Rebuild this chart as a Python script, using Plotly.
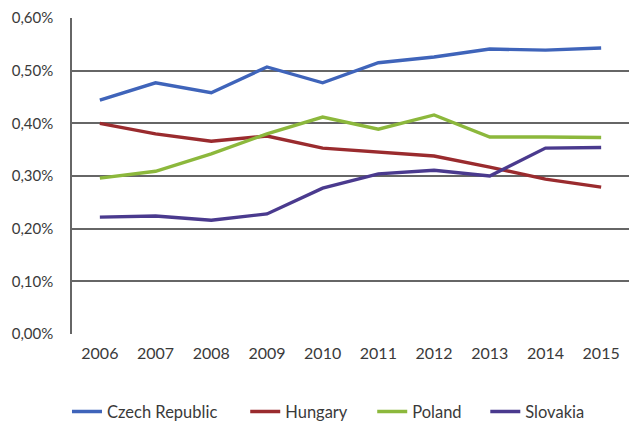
import plotly.graph_objects as go

years = ["2006", "2007", "2008", "2009", "2010", "2011", "2012", "2013", "2014", "2015"]

# shares in percent
czech = [0.444, 0.477, 0.458, 0.507, 0.477, 0.515, 0.526, 0.541, 0.539, 0.543]
hungary = [0.400, 0.380, 0.366, 0.376, 0.353, 0.346, 0.338, 0.317, 0.294, 0.279]
poland = [0.296, 0.309, 0.342, 0.380, 0.412, 0.389, 0.416, 0.374, 0.374, 0.373]
slovakia = [0.222, 0.224, 0.216, 0.228, 0.277, 0.304, 0.311, 0.300, 0.353, 0.354]

y_ticks = [0, 0.1, 0.2, 0.3, 0.4, 0.5, 0.6]
y_tick_labels = [f"{v:.2f}%".replace(".", ",") for v in y_ticks]

series = [
    ("Czech Republic", czech, "#3F64BA"),
    ("Hungary", hungary, "#9A2B2E"),
    ("Poland", poland, "#8CB83C"),
    ("Slovakia", slovakia, "#4A3A8E"),
]

# each series gets its own legend box so the entries can sit at fixed spots
legend_x = [-0.009, 0.311, 0.539, 0.742]
legend_ids = ["legend", "legend2", "legend3", "legend4"]

font_family = "Lato, 'Open Sans', sans-serif"
text_color = "#3a3a3a"

fig = go.Figure()
for (name, vals, color), lid in zip(series, legend_ids):
    fig.add_trace(go.Scatter(
        x=years, y=vals, name=name, mode="lines",
        line=dict(color=color, width=3.4), legend=lid,
    ))

legend_layout = {}
for lid, lx in zip(legend_ids, legend_x):
    legend_layout[lid] = dict(
        orientation="h", x=lx, xanchor="left",
        yref="container", y=0.022, yanchor="middle",
        font=dict(size=16.5, color=text_color),
        bgcolor="rgba(0,0,0,0)",
    )

fig.update_layout(
    width=629, height=421,
    margin=dict(l=72, r=0, t=18, b=87),
    paper_bgcolor="white", plot_bgcolor="white",
    font=dict(family=font_family, size=16, color=text_color),
    showlegend=True,
    xaxis=dict(
        type="category", range=[-0.5, 9.5],
        showgrid=False, showline=False, ticks="", ticklen=0,
        ticklabelstandoff=8,
        tickfont=dict(size=16, color=text_color), zeroline=False,
    ),
    yaxis=dict(
        range=[0, 0.6], tickvals=y_ticks, ticktext=y_tick_labels,
        showgrid=True, gridcolor="#666666", gridwidth=1.5,
        showline=True, linecolor="#666666", linewidth=1.5,
        zeroline=False, ticks="", ticklabelstandoff=14,
        tickfont=dict(size=15, color=text_color),
    ),
    **legend_layout,
)

fig.write_html("out.html")
